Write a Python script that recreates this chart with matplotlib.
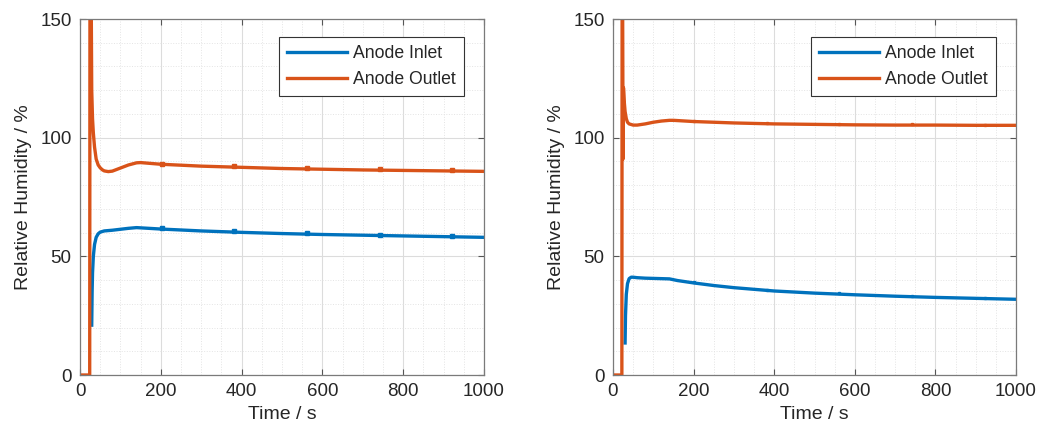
import numpy as np
import matplotlib
matplotlib.use("Agg")
import matplotlib.pyplot as plt
from matplotlib.ticker import MultipleLocator

matplotlib.rcParams['font.family'] = ['Liberation Sans', 'DejaVu Sans']

# left panel
t_out_l = [0, 24, 25, 27, 28, 29, 31, 33, 36, 40, 45, 50, 55, 60, 70, 80, 100, 120, 140, 150,
           200, 300, 400, 500, 600, 700, 800, 900, 1000]
rh_out_l = [0, 0, 250, 200, 150, 120, 108, 102, 96, 91, 88.5, 87.3, 86.5, 86, 85.7, 85.9, 87.2, 88.5, 89.4, 89.5,
            88.8, 88, 87.5, 87, 86.7, 86.4, 86.2, 86, 85.8]
t_in_l = [29, 30, 31, 33, 36, 40, 45, 50, 60, 80, 100, 120, 140, 150,
          200, 300, 400, 500, 600, 700, 800, 900, 1000]
rh_in_l = [21, 35, 43, 50, 55, 58, 59.5, 60.2, 60.7, 61, 61.4, 61.8, 62.1, 62,
           61.5, 60.7, 60.1, 59.6, 59.2, 58.9, 58.6, 58.3, 58]

# right panel
t_out_r = [0, 22, 23, 24, 25, 26, 28, 30, 33, 36, 40, 50, 60, 80, 100, 120, 140, 150,
           200, 300, 400, 500, 600, 700, 800, 900, 1000]
rh_out_r = [0, 0, 250, 150, 91, 121, 115, 111, 108, 106.5, 105.8, 105.3, 105.3, 105.8, 106.5, 107, 107.3, 107.3,
            106.8, 106.2, 105.8, 105.6, 105.4, 105.3, 105.3, 105.2, 105.2]
t_in_r = [30, 31, 33, 36, 40, 45, 50, 60, 80, 100, 120, 140, 160,
          200, 250, 300, 400, 500, 600, 700, 800, 900, 1000]
rh_in_r = [13.5, 25, 34, 38.5, 40.6, 41.2, 41.2, 41, 40.8, 40.7, 40.6, 40.5, 39.8,
           38.8, 37.7, 36.8, 35.4, 34.5, 33.8, 33.2, 32.7, 32.3, 31.9]

mark_t = [202, 382, 562, 742, 922]

blue = '#0072BD'
orange = '#D95319'
txt = '#262626'

fig = plt.figure(figsize=(10.41, 4.37), dpi=100)
ax1 = fig.add_axes([80/1041, 62/437, 404/1041, 356/437])
ax2 = fig.add_axes([613/1041, 62/437, 403/1041, 356/437])

panels = [(ax1, t_in_l, rh_in_l, t_out_l, rh_out_l, 2.2),
          (ax2, t_in_r, rh_in_r, t_out_r, rh_out_r, 1.4)]

for ax, ti, ri, to, ro, ms in panels:
    ax.plot(ti, ri, color=blue, lw=2.4, label='Anode Inlet', solid_joinstyle='round')
    ax.plot(to, ro, color=orange, lw=2.4, label='Anode Outlet', solid_joinstyle='round')
    # small sample markers on the traces
    ax.plot(mark_t, np.interp(mark_t, ti, ri) + 0.3, 's', color=blue, ms=ms, ls='none')
    ax.plot(mark_t, np.interp(mark_t, to, ro) + 0.3, 's', color=orange, ms=ms, ls='none')

    ax.set_xlim(0, 1000)
    ax.set_ylim(0, 150)
    ax.xaxis.set_major_locator(MultipleLocator(200))
    ax.xaxis.set_minor_locator(MultipleLocator(50))
    ax.yaxis.set_major_locator(MultipleLocator(50))
    ax.yaxis.set_minor_locator(MultipleLocator(10))
    ax.grid(which='major', color='#dcdcdc', lw=0.8, ls='-')
    ax.grid(which='minor', color='#e4e4e4', lw=0.7, ls=':')
    ax.set_axisbelow(True)
    ax.tick_params(which='major', direction='in', length=4, width=0.8, top=True, right=True,
                   labelsize=13.5, colors='#555555', labelcolor=txt, pad=6)
    ax.tick_params(which='minor', length=0, top=True, right=True)
    for s in ax.spines.values():
        s.set_color('#7a7a7a')
        s.set_linewidth(0.9)
    ax.set_xlabel('Time / s', fontsize=14, color=txt, labelpad=4)
    ax.set_ylabel('Relative Humidity / %', fontsize=14, color=txt, labelpad=6)
    leg = ax.legend(loc='upper right', bbox_to_anchor=(0.95, 0.95), fontsize=12.7, fancybox=False,
                    framealpha=1, edgecolor='#333333', handlelength=3.4, handletextpad=0.35,
                    borderpad=0.45, labelspacing=0.55, borderaxespad=0)
    leg.get_frame().set_linewidth(0.8)
    for tx in leg.get_texts():
        tx.set_color(txt)

fig.savefig('out.png', dpi=100)
